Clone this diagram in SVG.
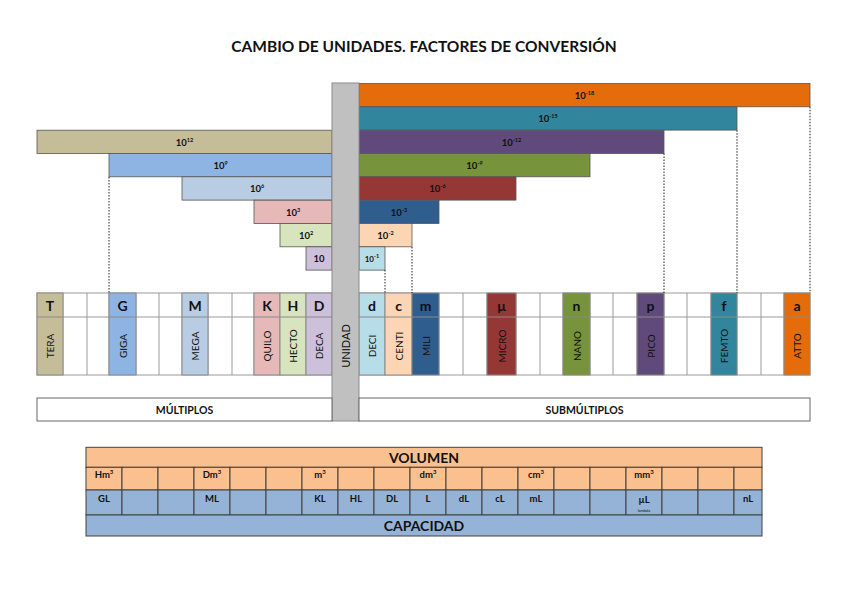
<svg xmlns="http://www.w3.org/2000/svg" width="848" height="599" viewBox="0 0 848 599">
<style>
text{font-family:Lato,"Liberation Sans",Arial,sans-serif;fill:#111}
.title{font-size:15.5px;font-weight:700}
.bar{stroke:#555;stroke-width:0.8}
.bl{font-size:9.5px;font-weight:700;text-anchor:middle}
.sup{font-size:5.5px}
.cell{fill:#fff;stroke:#9a9a9a;stroke-width:1}
.col{stroke:#8a8a8a;stroke-width:1}
.let{font-size:14px;font-weight:700;text-anchor:middle}
.nm{font-size:10px;text-anchor:middle;dominant-baseline:central}
.box{fill:#fff;stroke:#666;stroke-width:1}
.bx{font-size:10.5px;font-weight:700;text-anchor:middle}
.dot{stroke:#222;stroke-width:1;stroke-dasharray:1.5 1.5;fill:none}
.vol{fill:#FAC090;stroke:#404040;stroke-width:1}
.cap{fill:#95B3D7;stroke:#404040;stroke-width:1}
.hd{font-size:14px;font-weight:700;text-anchor:middle}
.tc{font-size:9.5px;font-weight:700;text-anchor:middle}
.ts{font-size:6px}
</style>
<text class="title" x="424" y="52" text-anchor="middle">CAMBIO DE UNIDADES. FACTORES DE CONVERSIÓN</text>

<g id="table-letters">
<rect class="cell" x="37" y="293" width="773" height="82"/>
<g stroke="#9a9a9a" stroke-width="1">
<line x1="37" y1="317" x2="810" y2="317"/>
<line x1="63" y1="293" x2="63" y2="375"/><line x1="87" y1="293" x2="87" y2="375"/><line x1="109" y1="293" x2="109" y2="375"/>
<line x1="136" y1="293" x2="136" y2="375"/><line x1="159" y1="293" x2="159" y2="375"/><line x1="182" y1="293" x2="182" y2="375"/>
<line x1="208" y1="293" x2="208" y2="375"/><line x1="232" y1="293" x2="232" y2="375"/><line x1="254" y1="293" x2="254" y2="375"/>
<line x1="439" y1="293" x2="439" y2="375"/><line x1="463" y1="293" x2="463" y2="375"/><line x1="487" y1="293" x2="487" y2="375"/>
<line x1="516" y1="293" x2="516" y2="375"/><line x1="540" y1="293" x2="540" y2="375"/><line x1="563" y1="293" x2="563" y2="375"/>
<line x1="590" y1="293" x2="590" y2="375"/><line x1="613" y1="293" x2="613" y2="375"/><line x1="637" y1="293" x2="637" y2="375"/>
<line x1="664" y1="293" x2="664" y2="375"/><line x1="687" y1="293" x2="687" y2="375"/><line x1="711" y1="293" x2="711" y2="375"/>
<line x1="737" y1="293" x2="737" y2="375"/><line x1="761" y1="293" x2="761" y2="375"/><line x1="784" y1="293" x2="784" y2="375"/>
</g>
</g>

<g id="col-T"><rect class="col" x="37" y="293" width="26" height="82" fill="#C4BD97"/><line x1="37" y1="317" x2="63" y2="317" stroke="#8a8a8a"/><text class="let" x="50" y="311">T</text><text class="nm" transform="translate(50,346) rotate(-90)">TERA</text></g>
<g id="col-G"><rect class="col" x="109" y="293" width="27" height="82" fill="#8DB4E2"/><line x1="109" y1="317" x2="136" y2="317" stroke="#8a8a8a"/><text class="let" x="122.5" y="311">G</text><text class="nm" transform="translate(122.5,346) rotate(-90)">GIGA</text></g>
<g id="col-M"><rect class="col" x="182" y="293" width="26" height="82" fill="#B8CCE4"/><line x1="182" y1="317" x2="208" y2="317" stroke="#8a8a8a"/><text class="let" x="195" y="311">M</text><text class="nm" transform="translate(195,346) rotate(-90)">MEGA</text></g>
<g id="col-K"><rect class="col" x="254" y="293" width="26" height="82" fill="#E6B8B7"/><line x1="254" y1="317" x2="280" y2="317" stroke="#8a8a8a"/><text class="let" x="267" y="311">K</text><text class="nm" transform="translate(267,346) rotate(-90)">QUILO</text></g>
<g id="col-H"><rect class="col" x="280" y="293" width="26" height="82" fill="#D7E4BD"/><line x1="280" y1="317" x2="306" y2="317" stroke="#8a8a8a"/><text class="let" x="293" y="311">H</text><text class="nm" transform="translate(293,346) rotate(-90)">HECTO</text></g>
<g id="col-D"><rect class="col" x="306" y="293" width="26" height="82" fill="#CCC0DA"/><line x1="306" y1="317" x2="332" y2="317" stroke="#8a8a8a"/><text class="let" x="319" y="311">D</text><text class="nm" transform="translate(319,346) rotate(-90)">DECA</text></g>
<g id="col-d"><rect class="col" x="359" y="293" width="26" height="82" fill="#B7DEE8"/><line x1="359" y1="317" x2="385" y2="317" stroke="#8a8a8a"/><text class="let" x="372" y="311">d</text><text class="nm" transform="translate(372,346) rotate(-90)">DECI</text></g>
<g id="col-c"><rect class="col" x="385" y="293" width="27" height="82" fill="#FCD5B5"/><line x1="385" y1="317" x2="412" y2="317" stroke="#8a8a8a"/><text class="let" x="398.5" y="311">c</text><text class="nm" transform="translate(398.5,346) rotate(-90)">CENTI</text></g>
<g id="col-m"><rect class="col" x="412" y="293" width="27" height="82" fill="#2F5D8E"/><line x1="412" y1="317" x2="439" y2="317" stroke="#8a8a8a"/><text class="let" x="425.5" y="311">m</text><text class="nm" transform="translate(425.5,346) rotate(-90)">MILI</text></g>
<g id="col-micro"><rect class="col" x="487" y="293" width="29" height="82" fill="#953735"/><line x1="487" y1="317" x2="516" y2="317" stroke="#8a8a8a"/><text class="let" x="501.5" y="311">µ</text><text class="nm" transform="translate(501.5,346) rotate(-90)">MICRO</text></g>
<g id="col-n"><rect class="col" x="563" y="293" width="27" height="82" fill="#77933C"/><line x1="563" y1="317" x2="590" y2="317" stroke="#8a8a8a"/><text class="let" x="576.5" y="311">n</text><text class="nm" transform="translate(576.5,346) rotate(-90)">NANO</text></g>
<g id="col-p"><rect class="col" x="637" y="293" width="27" height="82" fill="#604A7B"/><line x1="637" y1="317" x2="664" y2="317" stroke="#8a8a8a"/><text class="let" x="650.5" y="311">p</text><text class="nm" transform="translate(650.5,346) rotate(-90)">PICO</text></g>
<g id="col-f"><rect class="col" x="711" y="293" width="26" height="82" fill="#31859C"/><line x1="711" y1="317" x2="737" y2="317" stroke="#8a8a8a"/><text class="let" x="724" y="311">f</text><text class="nm" transform="translate(724,346) rotate(-90)">FEMTO</text></g>
<g id="col-a"><rect class="col" x="784" y="293" width="26" height="82" fill="#E46C0A"/><line x1="784" y1="317" x2="810" y2="317" stroke="#8a8a8a"/><text class="let" x="797" y="311">a</text><text class="nm" transform="translate(797,346) rotate(-90)">ATTO</text></g>

<g id="bar-1e12"><rect class="bar" x="37" y="130.2" width="295" height="23.3" fill="#C4BD97"/><text class="bl" x="184.5" y="145.5">10<tspan class="sup" dy="-4">12</tspan></text></g>
<g id="bar-1e9"><rect class="bar" x="109" y="153.5" width="223" height="23.3" fill="#8DB4E2"/><text class="bl" x="220.5" y="168.8">10<tspan class="sup" dy="-4">9</tspan></text></g>
<g id="bar-1e6"><rect class="bar" x="182" y="176.8" width="150" height="23.3" fill="#B8CCE4"/><text class="bl" x="257" y="192.1">10<tspan class="sup" dy="-4">6</tspan></text></g>
<g id="bar-1e3"><rect class="bar" x="254" y="200.2" width="78" height="23.3" fill="#E6B8B7"/><text class="bl" x="293" y="215.5">10<tspan class="sup" dy="-4">3</tspan></text></g>
<g id="bar-1e2"><rect class="bar" x="280" y="223.5" width="52" height="23.3" fill="#D7E4BD"/><text class="bl" x="306" y="238.8">10<tspan class="sup" dy="-4">2</tspan></text></g>
<g id="bar-1e1"><rect class="bar" x="306" y="246.8" width="26" height="23.3" fill="#CCC0DA"/><text class="bl" x="319" y="262.1">10</text></g>

<g id="bar-1e-18"><rect class="bar" x="359" y="83.5" width="451" height="23.3" fill="#E46C0A"/><text class="bl" x="584.5" y="98.8">10<tspan class="sup" dy="-4">-18</tspan></text></g>
<g id="bar-1e-15"><rect class="bar" x="359" y="106.8" width="378" height="23.3" fill="#31859C"/><text class="bl" x="548" y="122.1">10<tspan class="sup" dy="-4">-15</tspan></text></g>
<g id="bar-1e-12"><rect class="bar" x="359" y="130.2" width="305" height="23.3" fill="#604A7B"/><text class="bl" x="511.5" y="145.5">10<tspan class="sup" dy="-4">-12</tspan></text></g>
<g id="bar-1e-9"><rect class="bar" x="359" y="153.5" width="231" height="23.3" fill="#77933C"/><text class="bl" x="474.5" y="168.8">10<tspan class="sup" dy="-4">-9</tspan></text></g>
<g id="bar-1e-6"><rect class="bar" x="359" y="176.8" width="157" height="23.3" fill="#953735"/><text class="bl" x="437.5" y="192.1">10<tspan class="sup" dy="-4">-6</tspan></text></g>
<g id="bar-1e-3"><rect class="bar" x="359" y="200.2" width="80" height="23.3" fill="#2F5D8E"/><text class="bl" x="399" y="215.5">10<tspan class="sup" dy="-4">-3</tspan></text></g>
<g id="bar-1e-2"><rect class="bar" x="359" y="223.5" width="53" height="23.3" fill="#FCD5B5"/><text class="bl" x="385.5" y="238.8">10<tspan class="sup" dy="-4">-2</tspan></text></g>
<g id="bar-1e-1"><rect class="bar" x="359" y="246.8" width="26" height="23.3" fill="#B7DEE8"/><text class="bl" x="372" y="262.1" style="font-size:8px">10<tspan class="sup" dy="-4">-1</tspan></text></g>

<g id="connectors">
<line class="dot" x1="109" y1="177" x2="109" y2="293"/>
<line class="dot" x1="385" y1="270" x2="385" y2="293"/>
<line class="dot" x1="412" y1="247" x2="412" y2="293"/>
<line class="dot" x1="664" y1="153.5" x2="664" y2="293"/>
<line class="dot" x1="737" y1="130.2" x2="737" y2="293"/>
<line class="dot" x1="810" y1="106.8" x2="810" y2="293"/>
</g>

<g id="unidad"><rect x="332" y="83" width="27" height="338" fill="#C0C0C0" stroke="#8c8c8c" stroke-width="1"/><text class="nm" style="font-size:11px" transform="translate(345.5,346) rotate(-90)">UNIDAD</text></g>

<g id="multiplos"><rect class="box" x="37" y="398" width="295" height="23"/><text class="bx" x="184.5" y="413.5">MÚLTIPLOS</text></g>
<g id="submultiplos"><rect class="box" x="359" y="398" width="451" height="23"/><text class="bx" x="584.5" y="413.5">SUBMÚLTIPLOS</text></g>

<g id="volumen">
<rect class="vol" x="86" y="447.3" width="676" height="20"/>
<text class="hd" x="424" y="462.5">VOLUMEN</text>
</g>
<g id="vol-row">
<rect class="vol" x="86" y="467.3" width="36" height="22.7"/><rect class="vol" x="122" y="467.3" width="36" height="22.7"/><rect class="vol" x="158" y="467.3" width="36" height="22.7"/>
<rect class="vol" x="194" y="467.3" width="36" height="22.7"/><rect class="vol" x="230" y="467.3" width="36" height="22.7"/><rect class="vol" x="266" y="467.3" width="36" height="22.7"/>
<rect class="vol" x="302" y="467.3" width="36" height="22.7"/><rect class="vol" x="338" y="467.3" width="36" height="22.7"/><rect class="vol" x="374" y="467.3" width="36" height="22.7"/>
<rect class="vol" x="410" y="467.3" width="36" height="22.7"/><rect class="vol" x="446" y="467.3" width="36" height="22.7"/><rect class="vol" x="482" y="467.3" width="36" height="22.7"/>
<rect class="vol" x="518" y="467.3" width="36" height="22.7"/><rect class="vol" x="554" y="467.3" width="36" height="22.7"/><rect class="vol" x="590" y="467.3" width="36" height="22.7"/>
<rect class="vol" x="626" y="467.3" width="36" height="22.7"/><rect class="vol" x="662" y="467.3" width="36" height="22.7"/><rect class="vol" x="698" y="467.3" width="36" height="22.7"/>
<rect class="vol" x="734" y="467.3" width="28" height="22.7"/>
<text class="tc" x="104" y="477.5">Hm<tspan class="ts" dy="-3.5">3</tspan></text>
<text class="tc" x="212" y="477.5">Dm<tspan class="ts" dy="-3.5">3</tspan></text>
<text class="tc" x="320" y="477.5">m<tspan class="ts" dy="-3.5">3</tspan></text>
<text class="tc" x="428" y="477.5">dm<tspan class="ts" dy="-3.5">3</tspan></text>
<text class="tc" x="536" y="477.5">cm<tspan class="ts" dy="-3.5">3</tspan></text>
<text class="tc" x="644" y="477.5">mm<tspan class="ts" dy="-3.5">3</tspan></text>
</g>
<g id="cap-row">
<rect class="cap" x="86" y="490" width="36" height="25"/><rect class="cap" x="122" y="490" width="36" height="25"/><rect class="cap" x="158" y="490" width="36" height="25"/>
<rect class="cap" x="194" y="490" width="36" height="25"/><rect class="cap" x="230" y="490" width="36" height="25"/><rect class="cap" x="266" y="490" width="36" height="25"/>
<rect class="cap" x="302" y="490" width="36" height="25"/><rect class="cap" x="338" y="490" width="36" height="25"/><rect class="cap" x="374" y="490" width="36" height="25"/>
<rect class="cap" x="410" y="490" width="36" height="25"/><rect class="cap" x="446" y="490" width="36" height="25"/><rect class="cap" x="482" y="490" width="36" height="25"/>
<rect class="cap" x="518" y="490" width="36" height="25"/><rect class="cap" x="554" y="490" width="36" height="25"/><rect class="cap" x="590" y="490" width="36" height="25"/>
<rect class="cap" x="626" y="490" width="36" height="25"/><rect class="cap" x="662" y="490" width="36" height="25"/><rect class="cap" x="698" y="490" width="36" height="25"/>
<rect class="cap" x="734" y="490" width="28" height="25"/>
<text class="tc" x="104" y="501.5">GL</text>
<text class="tc" x="212" y="501.5">ML</text>
<text class="tc" x="320" y="501.5">KL</text>
<text class="tc" x="356" y="501.5">HL</text>
<text class="tc" x="392" y="501.5">DL</text>
<text class="tc" x="428" y="501.5">L</text>
<text class="tc" x="464" y="501.5">dL</text>
<text class="tc" x="500" y="501.5">cL</text>
<text class="tc" x="536" y="501.5">mL</text>
<text class="tc" x="644" y="503">µL</text>
<text x="644" y="511.5" text-anchor="middle" style="font-size:4px">lambda</text>
<text class="tc" x="748" y="501.5">nL</text>
</g>
<g id="capacidad">
<rect class="cap" x="86" y="515" width="676" height="21"/>
<text class="hd" x="424" y="531">CAPACIDAD</text>
</g>
</svg>
